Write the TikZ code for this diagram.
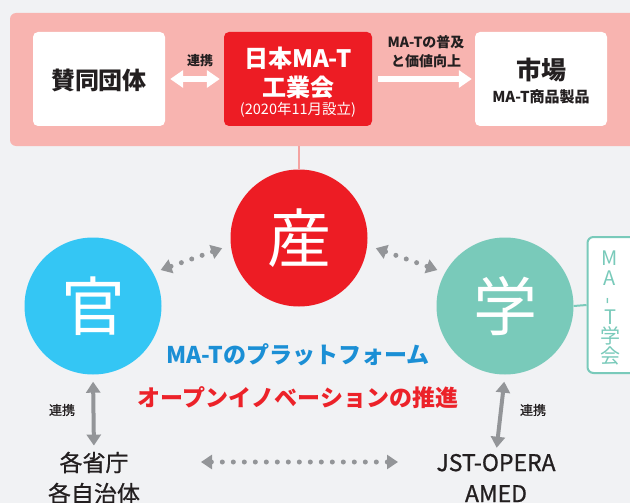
\documentclass[tikz,border=0pt]{standalone}
\usepackage{fontspec}
\usepackage{graphicx}
\setmainfont{Noto Sans CJK JP}
\newfontfamily\jpmed{Noto Sans CJK JP}[FakeBold=0.8]
\usetikzlibrary{arrows.meta}
\definecolor{bgc}{HTML}{F1F2F4}
\definecolor{panelc}{HTML}{F8B4B0}
\definecolor{panelline}{HTML}{F4A3A1}
\definecolor{sanred}{HTML}{ED1C24}
\definecolor{kancyan}{HTML}{34C6F4}
\definecolor{gakuteal}{HTML}{79CABA}
\definecolor{arrowgray}{HTML}{939598}
\definecolor{txtdark}{HTML}{231F20}
\definecolor{blueT}{HTML}{1B8FD5}
\definecolor{redT}{HTML}{EC2229}
\newcommand\myfs[1]{\fontsize{#1}{#1}\selectfont}
\tikzset{
  wbox/.style={rectangle, rounded corners=5, fill=white, minimum width=132, minimum height=94, inner sep=0},
  rbox/.style={rectangle, rounded corners=5, fill=sanred, minimum width=148, minimum height=94, inner sep=0},
  bigcirc/.style={circle, minimum size=137, inner sep=0, text=white, font=\myfs{64}},
  txt/.style={inner sep=0, text=txtdark},
  warrow/.style={draw=white, line width=6},
  garrow/.style={draw=arrowgray, line width=4},
  dotarrow/.style={draw=arrowgray, line width=5, dash pattern=on 0pt off 11pt, line cap=round},
  wtip/.tip={Triangle[length=13, width=17]},
  gtip/.tip={Triangle[length=11, width=14]},
}
\begin{document}
\begin{tikzpicture}[x=1pt,y=-1pt]
\useasboundingbox (0,0) rectangle (630,503);
\fill[bgc] (0,0) rectangle (630,503);
% top panel
\node[rectangle, rounded corners=6, fill=panelc, minimum width=628, minimum height=133, inner sep=0] (panel) at (324,79.5) {};
\node[wbox] (sando) at (99,79) {};
\node[txt, font=\bfseries\myfs{24}] (sandot) at (99,80) {賛同団体};
\node[rbox] (ind) at (298,79) {};
\node[inner sep=0, text=white, font=\bfseries\myfs{24}] (indt1) at (298,58) {日本MA-T};
\node[inner sep=0, text=white, font=\bfseries\myfs{24}] (indt2) at (298,87) {工業会};
\node[inner sep=0, text=white, font=\myfs{14.5}] (indt3) at (298,110) {(2020年11月設立)};
\node[wbox] (market) at (541,79) {};
\node[txt, font=\bfseries\myfs{25}] (markett1) at (541,70) {市場};
\node[txt, font=\bfseries\myfs{15}] (markett2) at (541,97) {MA-T商品製品};
\draw[warrow, {wtip}-{wtip}, shorten <=5, shorten >=4] (sando.east) -- (ind.west);
\node[txt, font=\bfseries\myfs{13}] (lab1) at (200,61) {連携};
\draw[warrow, -{wtip}, shorten <=6, shorten >=3] (ind.east) -- (market.west);
\node[txt, font=\bfseries\myfs{14}, align=center] (lab2) at (426,52) {MA-Tの普及\\[5pt]と価値向上};
% circles
\node[bigcirc, fill=sanred] (san) at (299,238) {産};
\node[bigcirc, fill=kancyan] (kan) at (93,306) {官};
\node[bigcirc, fill=gakuteal] (gaku) at (505,306) {学};
\draw[panelline, line width=2] (san.north |- panel.south) -- (san.north);
% MA-T gakkai box
\node[rectangle, rounded corners=6, draw=gakuteal, line width=2, fill=white, minimum width=53, minimum height=136, inner sep=0] (mat) at (614,305) {};
\node[inner sep=0, text=gakuteal, font=\fontsize{20}{19.5}\selectfont, align=center] (matt) at (610,308) {M\\A\\\rotatebox{90}{-}\\T\\学\\会};
\draw[gakuteal, line width=2] (gaku.east) -- (mat.west);
% dotted arrows between circles
\draw[dotarrow, {gtip}-{gtip}, shorten <=9, shorten >=8] (san.186) -- (kan.29);
\draw[dotarrow, {gtip}-{gtip}, shorten <=9, shorten >=8] (san.-6) -- (gaku.151);
% middle texts
\node[inner sep=0, text=blueT, font=\bfseries\myfs{23}] (plat) at (298,355) {MA-Tのプラットフォーム};
\node[inner sep=0, text=redT, font=\bfseries\myfs{23}] (open) at (298,398) {オープンイノベーションの推進};
% bottom
\node[txt, font=\jpmed\myfs{23}, align=center] (gov) at (94,478) {各省庁\\[8pt]各自治体};
\node[txt, font=\jpmed\myfs{23}, align=center] (jst) at (496,478) {JST-OPERA\\[8pt]AMED};
\draw[garrow, {gtip}-{gtip}, shorten <=7, shorten >=6] (kan.south) -- (gov.north);
\draw[garrow, {gtip}-{gtip}, shorten <=7, shorten >=6] (gaku.south) -- (jst.north);
\node[txt, font=\jpmed\myfs{13}] (lab3) at (62,410) {連携};
\node[txt, font=\jpmed\myfs{13}] (lab4) at (533,410) {連携};
\coordinate (hl) at (201,462);
\coordinate (hr) at (398,462);
\draw[dotarrow, {gtip}-{gtip}] (hl) -- (hr);
\end{tikzpicture}
\end{document}
